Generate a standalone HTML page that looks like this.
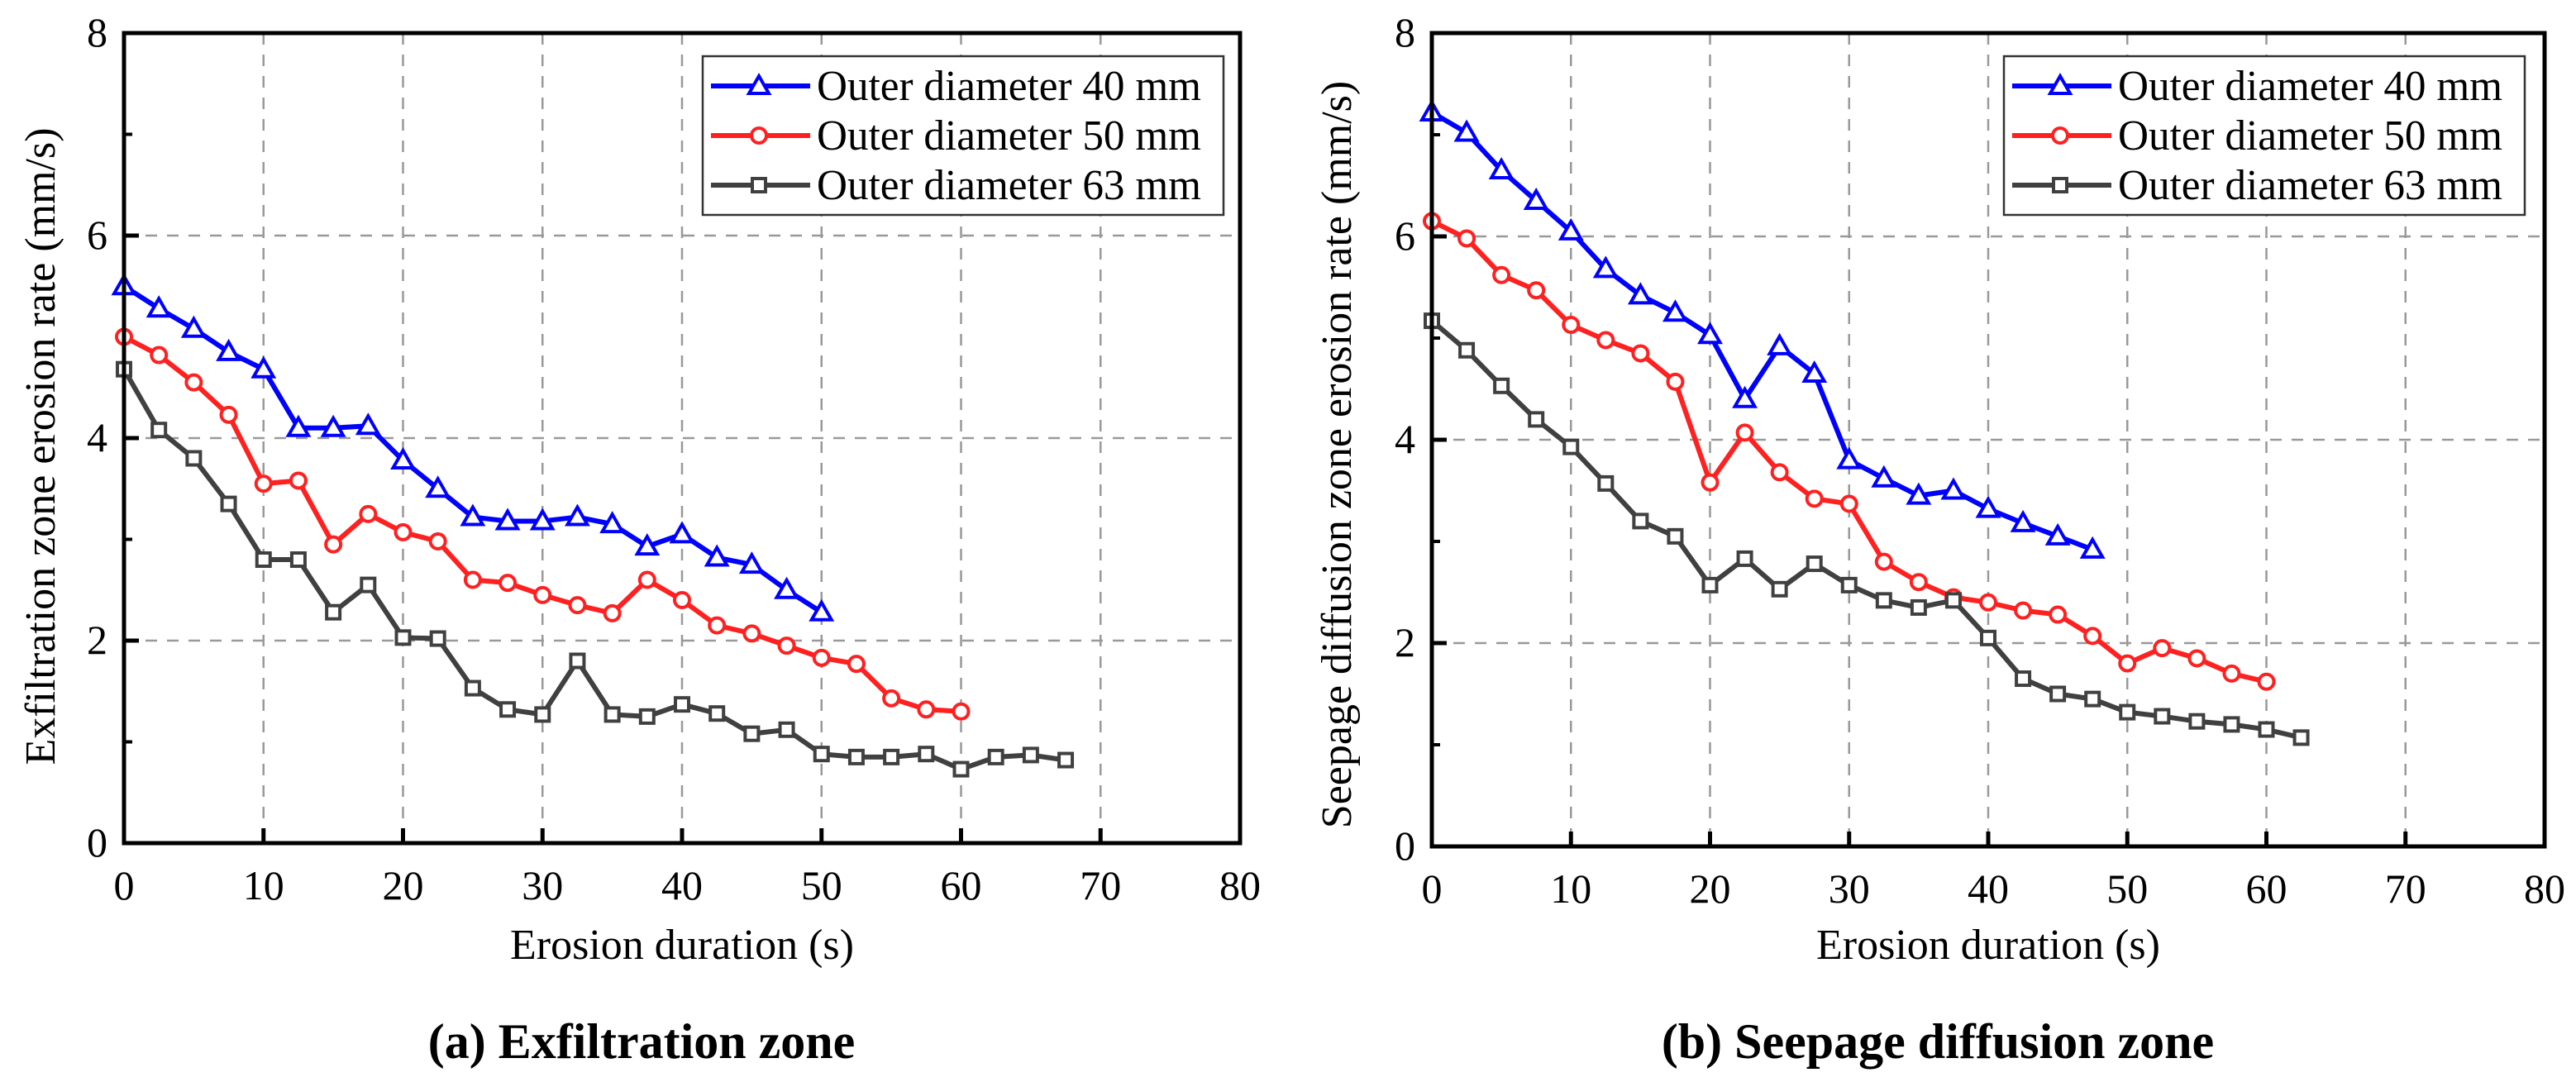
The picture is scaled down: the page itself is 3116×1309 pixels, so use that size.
<!DOCTYPE html>
<html><head><meta charset="utf-8"><style>
html,body{margin:0;padding:0;background:#fff;}
svg{display:block;}
svg text{font-family:"Liberation Serif","Times New Roman",serif;}
</style></head><body>
<svg id="fig" width="3116" height="1309" viewBox="0 0 3116 1309" xmlns="http://www.w3.org/2000/svg" font-family="Liberation Serif, serif"></svg>
<script>
const xTicks=[0,10,20,30,40,50,60,70,80];
const yTicks=[0,2,4,6,8];
const legendLabels=["Outer diameter 40 mm","Outer diameter 50 mm","Outer diameter 63 mm"];
const step=2.5;
const a40=[5.5,5.28,5.08,4.85,4.68,4.1,4.1,4.12,3.78,3.5,3.22,3.18,3.18,3.22,3.15,2.93,3.05,2.82,2.75,2.5,2.28];
const a50=[5.0,4.82,4.55,4.23,3.55,3.58,2.95,3.25,3.07,2.98,2.6,2.57,2.45,2.35,2.27,2.6,2.4,2.15,2.07,1.95,1.83,1.77,1.43,1.32,1.3];
const a63=[4.68,4.08,3.8,3.35,2.8,2.8,2.28,2.55,2.03,2.02,1.53,1.32,1.27,1.8,1.27,1.25,1.37,1.28,1.08,1.12,0.88,0.85,0.85,0.88,0.73,0.85,0.87,0.82];
const b40=[7.22,7.02,6.65,6.35,6.05,5.68,5.42,5.25,5.03,4.4,4.92,4.65,3.8,3.62,3.45,3.5,3.32,3.18,3.05,2.92];
const b50=[6.15,5.98,5.62,5.47,5.13,4.98,4.85,4.57,3.58,4.07,3.68,3.42,3.37,2.8,2.6,2.45,2.4,2.32,2.28,2.07,1.8,1.95,1.85,1.7,1.62];
const b63=[5.17,4.88,4.53,4.2,3.93,3.57,3.2,3.05,2.57,2.83,2.53,2.78,2.57,2.42,2.35,2.42,2.05,1.65,1.5,1.45,1.32,1.28,1.23,1.2,1.15,1.07];

const NS="http://www.w3.org/2000/svg";
const svg=document.getElementById('fig');
function mk(tag,attrs,parent){const e=document.createElementNS(NS,tag);for(const k in attrs)e.setAttribute(k,attrs[k]);(parent||svg).appendChild(e);return e;}
const colors=["#0000ff","#ff2020","#404040"];
const markers=["tri","circ","sq"];
const FF="Liberation Serif, serif";

function marker(g,type,x,y,c){
  let e;
  if(type==="tri"){e=mk('polygon',{points:`${x},${y-12} ${x+12},${y+9} ${x-12},${y+9}`,fill:'#fff',stroke:c,'stroke-width':4},g);}
  else if(type==="circ"){e=mk('circle',{cx:x,cy:y,r:9,fill:'#fff',stroke:c,'stroke-width':4},g);}
  else {e=mk('rect',{x:x-8,y:y-8,width:16,height:16,fill:'#fff',stroke:c,'stroke-width':4},g);}
  return e;
}

function panel(p){
  const g=mk('g',{});
  
  
  const X=v=>p.x0+(v-0)/80*(p.x1-p.x0);
  const Y=v=>p.y0-(v/8)*(p.y0-p.y1);
  xTicks.slice(1,-1).forEach(t=>{const l=mk('line',{x1:X(t),x2:X(t),y1:p.y1,y2:p.y0,stroke:'#999','stroke-width':2.5,'stroke-dasharray':'14,12'},g);});
  yTicks.slice(1,-1).forEach(t=>{const l=mk('line',{x1:p.x0,x2:p.x1,y1:Y(t),y2:Y(t),stroke:'#999','stroke-width':2.5,'stroke-dasharray':'14,12'},g);});
  xTicks.forEach(t=>{mk('line',{x1:X(t),x2:X(t),y1:p.y0,y2:p.y0-18,stroke:'#000','stroke-width':5},g);
    const tx=mk('text',{x:X(t),y:p.y0+68,'font-size':50,'font-family':FF,'text-anchor':'middle',fill:'#000'},g);tx.textContent=t;
    });
  yTicks.forEach(t=>{mk('line',{x1:p.x0,x2:p.x0+18,y1:Y(t),y2:Y(t),stroke:'#000','stroke-width':5},g);
    const ty=mk('text',{x:p.x0-20,y:Y(t)+16,'font-size':50,'font-family':FF,'text-anchor':'end',fill:'#000'},g);ty.textContent=t;
    });
  [1,3,5,7].forEach(t=>mk('line',{x1:p.x0,x2:p.x0+10,y1:Y(t),y2:Y(t),stroke:'#000','stroke-width':4},g));
  p.series.forEach((s,i)=>{
    const sg=mk('g',{},g);
    
    
    const pts=s.map((v,j)=>X(j*step)+','+Y(v)).join(' ');
    mk('polyline',{points:pts,fill:'none',stroke:colors[i],'stroke-width':6,'stroke-linejoin':'round'},sg);
    s.forEach((v,j)=>{const m=marker(sg,markers[i],X(j*step),Y(v),colors[i]);
      });
  });
  const fr=mk('rect',{x:p.x0,y:p.y1,width:p.x1-p.x0,height:p.y0-p.y1,fill:'none',stroke:'#000','stroke-width':5},g);
  
  const lg=mk('g',{},g);
  
  mk('rect',{x:p.lx,y:68,width:630,height:192,fill:'#fff',stroke:'#333','stroke-width':2.5},lg);
  legendLabels.forEach((lab,i)=>{
    const cy=104+i*60;
    const e=mk('g',{},lg);
    
    mk('line',{x1:p.lx+10,x2:p.lx+130,y1:cy,y2:cy,stroke:colors[i],'stroke-width':6},e);
    marker(e,markers[i],p.lx+68,cy,colors[i]);
    const t=mk('text',{x:p.lx+138,y:cy+17,'font-size':52,'font-family':FF,fill:'#000',textLength:465,lengthAdjust:'spacingAndGlyphs'},e);
    t.textContent=lab;
  });
  const xt=mk('text',{x:(p.x0+p.x1)/2,y:1160,'font-size':52,'font-family':FF,'text-anchor':'middle',fill:'#000'},g);
  xt.textContent="Erosion duration (s)";
  const yt=mk('text',{x:0,y:0,'font-size':52,'font-family':FF,'text-anchor':'middle',fill:'#000',transform:`translate(${p.ytx},${p.yty}) rotate(-90)`},g);
  yt.textContent=p.ytitle;
  const cap=mk('text',{x:p.capx,y:1280,'font-size':60,'font-family':FF,'font-weight':'bold','text-anchor':'middle',fill:'#000'},g);
  cap.textContent=p.caption;
}
panel({name:'panel-a-exfiltration',x0:150,x1:1500,y0:1020,y1:40,series:[a40,a50,a63],lx:850,
  ytitle:"Exfiltration zone erosion rate (mm/s)",ytx:66,yty:540,caption:"(a) Exfiltration zone",capx:776});
panel({name:'panel-b-seepage',x0:1732,x1:3078,y0:1024,y1:40,series:[b40,b50,b63],lx:2424,
  ytitle:"Seepage diffusion zone erosion rate (mm/s)",ytx:1634,yty:550,caption:"(b) Seepage diffusion zone",capx:2344});
</script>
</body></html>
